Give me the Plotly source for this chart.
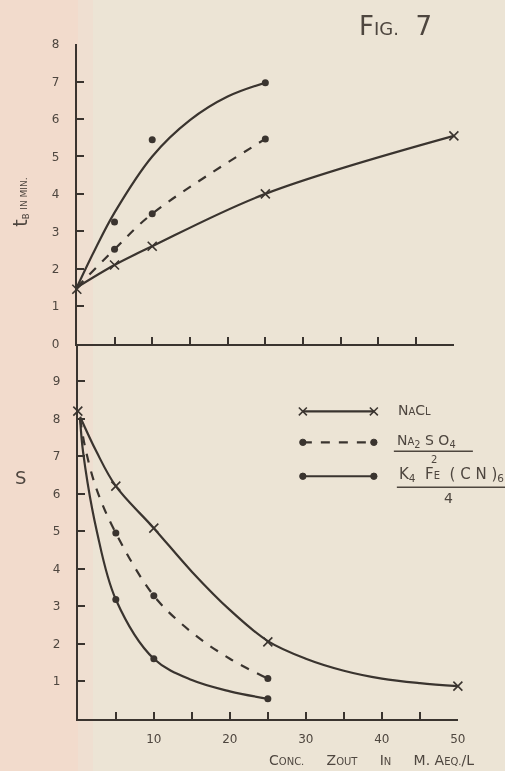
import plotly.graph_objects as go

# ---------------- data ----------------
# upper panel: t_B in min vs concentration (measured points)
tb_nacl_x = [0, 5, 10, 25, 50]
tb_nacl_y = [1.45, 2.1, 2.6, 4.0, 5.55]
tb_na2so4_x = [5, 10, 25]
tb_na2so4_y = [2.52, 3.47, 5.47]
tb_k4_x = [5, 10, 25]
tb_k4_y = [3.25, 5.45, 6.97]

# hand-drawn curves of the upper panel
tb_nacl_curve_x = [0, 5, 10, 25, 50]
tb_nacl_curve_y = [1.5, 2.1, 2.6, 4.0, 5.55]
tb_na2so4_curve_x = [0, 5, 10, 25]
tb_na2so4_curve_y = [1.5, 2.52, 3.47, 5.47]
tb_k4_curve_x = [0, 2.5, 5, 10, 15, 20, 25]
tb_k4_curve_y = [1.5, 2.55, 3.5, 5.0, 5.97, 6.6, 6.97]

# lower panel: S vs concentration (measured points)
s_nacl_x = [0, 5, 10, 25, 50]
s_nacl_y = [8.2, 6.2, 5.08, 2.05, 0.87]
s_na2so4_x = [5, 10, 25]
s_na2so4_y = [4.95, 3.28, 1.07]
s_k4_x = [5, 10, 25]
s_k4_y = [3.18, 1.6, 0.53]

# hand-drawn curves of the lower panel
s_nacl_curve_x = [0.3, 2.5, 5, 10, 15, 20, 25, 30, 35, 40, 45, 50]
s_nacl_curve_y = [8.05, 7.1, 6.2, 5.08, 3.92, 2.9, 2.07, 1.6, 1.28, 1.07, 0.95, 0.87]
s_na2so4_curve_x = [0.3, 1, 2.5, 5, 10, 15, 20, 25]
s_na2so4_curve_y = [8.0, 7.2, 6.1, 4.95, 3.28, 2.3, 1.6, 1.07]
s_k4_curve_x = [0.3, 0.7, 2.5, 5, 10, 15, 20, 25]
s_k4_curve_y = [8.0, 7.1, 5.0, 3.18, 1.6, 1.03, 0.73, 0.53]

x_ticks = [5, 10, 15, 20, 25, 30, 35, 40, 45, 50]
x_ticktext = ["", "10", "", "20", "", "30", "", "40", "", "50"]
tb_ticks = [0, 1, 2, 3, 4, 5, 6, 7, 8]
s_ticks = [1, 2, 3, 4, 5, 6, 7, 8, 9]

# ---------------- style ----------------
W, H = 505, 771
BG = "rgb(236,228,213)"
PINK = "rgb(242,219,204)"
PINK2 = "rgb(239,223,209)"
INK = "rgb(58,52,47)"
TXT = "rgb(78,70,63)"
FONT = "DejaVu Sans"

# the page photo is slightly rescaled / shifted; positions below are target pixels
SX, OX, SY, OY = 0.984, -0.8, 0.984, 5.7
def px(x):
    return ((x - OX) / SX) / W
def py(y):
    return 1 - ((y - OY) / SY) / H

fig = go.Figure()

def curve(x, y, dash, xa, ya, smooth=1.0):
    fig.add_trace(go.Scatter(x=x, y=y, mode="lines", xaxis=xa, yaxis=ya, cliponaxis=False,
                             line=dict(color=INK, width=2.2, dash=dash, shape="spline", smoothing=smooth),
                             showlegend=False, hoverinfo="skip"))

def marks(x, y, sym, xa, ya):
    if sym == "x":
        m = dict(symbol="x-thin", size=9, line=dict(color=INK, width=1.6), color=INK)
    else:
        m = dict(symbol="circle", size=7, color=INK)
    fig.add_trace(go.Scatter(x=x, y=y, mode="markers", xaxis=xa, yaxis=ya, marker=m, cliponaxis=False,
                             showlegend=False, hoverinfo="skip"))

# upper panel
curve(tb_nacl_curve_x, tb_nacl_curve_y, "solid", "x", "y")
marks(tb_nacl_x, tb_nacl_y, "x", "x", "y")
curve(tb_na2so4_curve_x, tb_na2so4_curve_y, "dash", "x", "y")
marks(tb_na2so4_x, tb_na2so4_y, "o", "x", "y")
curve(tb_k4_curve_x, tb_k4_curve_y, "solid", "x", "y")
marks(tb_k4_x, tb_k4_y, "o", "x", "y")

# lower panel
curve(s_nacl_curve_x, s_nacl_curve_y, "solid", "x2", "y2")
marks(s_nacl_x, s_nacl_y, "x", "x2", "y2")
curve(s_na2so4_curve_x, s_na2so4_curve_y, "dash", "x2", "y2")
marks(s_na2so4_x, s_na2so4_y, "o", "x2", "y2")
curve(s_k4_curve_x, s_k4_curve_y, "solid", "x2", "y2")
marks(s_k4_x, s_k4_y, "o", "x2", "y2")

axis_common = dict(showgrid=False, zeroline=False, showline=True, linecolor=INK, linewidth=2,
                   ticks="inside", ticklen=7, tickwidth=1.8, tickcolor=INK,
                   tickfont=dict(family=FONT, size=12, color=TXT))

fig.update_layout(
    width=W, height=H,
    margin=dict(l=0, r=0, t=0, b=0, pad=0),
    paper_bgcolor="rgba(0,0,0,0)", plot_bgcolor="rgba(0,0,0,0)",
    showlegend=False,
    xaxis=dict(axis_common, domain=[px(76), px(453)], range=[0, 50], anchor="y",
               tickvals=x_ticks, showticklabels=False),
    yaxis=dict(axis_common, domain=[py(343), py(43)], range=[0, 8], anchor="x",
               tickvals=tb_ticks, ticktext=[str(v) for v in tb_ticks], ticklabelstandoff=13),
    xaxis2=dict(axis_common, domain=[px(77), px(457)], range=[0, 50], anchor="y2",
                tickvals=x_ticks, ticktext=x_ticktext, ticklabelstandoff=8),
    yaxis2=dict(axis_common, domain=[py(719), py(343)], range=[0, 10], anchor="x2",
                tickvals=s_ticks, ticktext=[str(v) for v in s_ticks], ticklabelstandoff=13),
)

shapes = []
# hand-drawn legend
lx0, lx1 = 302, 373
rows = [(411, "x", "solid"), (442, "o", "dash"), (476, "o", "solid")]
for yy, sym, dash in rows:
    shapes.append(dict(type="line", xref="paper", yref="paper", x0=px(lx0), x1=px(lx1),
                       y0=py(yy), y1=py(yy), line=dict(color=INK, width=2.2, dash=dash)))
    for xx in (lx0, lx1):
        if sym == "x":
            d = 4
            shapes.append(dict(type="line", xref="paper", yref="paper", x0=px(xx - d), x1=px(xx + d),
                               y0=py(yy - d), y1=py(yy + d), line=dict(color=INK, width=1.5)))
            shapes.append(dict(type="line", xref="paper", yref="paper", x0=px(xx - d), x1=px(xx + d),
                               y0=py(yy + d), y1=py(yy - d), line=dict(color=INK, width=1.5)))
        else:
            r = 3.2
            shapes.append(dict(type="circle", xref="paper", yref="paper", x0=px(xx - r), x1=px(xx + r),
                               y0=py(yy + r), y1=py(yy - r), fillcolor=INK, line=dict(color=INK, width=1)))
# fraction bars of the legend labels
for (xa, xb, yy) in [(393, 472, 451), (396, 510, 487)]:
    shapes.append(dict(type="line", xref="paper", yref="paper", x0=px(xa), x1=px(xb),
                       y0=py(yy), y1=py(yy), line=dict(color=TXT, width=1.4)))
fig.update_layout(shapes=shapes)

sm = "font-size:10px"
ann = []
ann.append(dict(text=f"N<span style='{sm}'>A</span>C<span style='{sm}'>L</span>",
                x=px(395), y=py(410), xanchor="left", yanchor="middle"))
ann.append(dict(text=f"N<span style='{sm}'>A</span><sub>2</sub> S O<sub>4</sub>",
                x=px(394), y=py(441), xanchor="left", yanchor="middle"))
ann.append(dict(text="<span style='font-size:10px'>2</span>", x=px(433), y=py(459),
                xanchor="center", yanchor="middle"))
ann.append(dict(text=f"K<sub>4</sub>&nbsp; F<span style='{sm}'>E</span>&nbsp; ( C N )<sub>6</sub>",
                x=px(396), y=py(474), xanchor="left", yanchor="middle", font_size=15))
ann.append(dict(text="4", x=px(448), y=py(498), xanchor="center", yanchor="middle"))
# axis titles
ann.append(dict(text=f"<span style='font-size:19px'>t</span><sub>B</sub> <span style='font-size:9px'>IN MIN.</span>",
                x=px(20), y=py(201), textangle=-90, xanchor="center", yanchor="middle", font_size=12))
ann.append(dict(text="<span style='font-size:18px'>S</span>", x=px(20), y=py(477),
                xanchor="center", yanchor="middle"))
ann.append(dict(text=f"C<span style='{sm}'>ONC.</span>&nbsp;&nbsp;&nbsp;&nbsp; Z<span style='{sm}'>OUT</span>&nbsp;&nbsp;&nbsp;&nbsp; I<span style='{sm}'>N</span>&nbsp;&nbsp;&nbsp;&nbsp; M. A<span style='{sm}'>EQ.</span>/L",
                x=px(371), y=py(760), xanchor="center", yanchor="middle", font_size=14))
ann.append(dict(text="F<span style='font-size:18px'>IG.</span>&nbsp;&nbsp;7", x=px(395), y=py(25),
                xanchor="center", yanchor="middle", font=dict(family=FONT, size=26, color=TXT)))
for a in ann:
    fs = a.pop("font_size", 14)
    a.setdefault("font", dict(family=FONT, size=fs, color=TXT))
    a.update(xref="paper", yref="paper", showarrow=False)
fig.update_layout(annotations=ann)

grad = ("linear-gradient(to right, " + PINK + " 0px, " + PINK + " 78px, " + PINK2 + " 78px, "
        + PINK2 + " 93px, " + BG + " 93px, " + BG + " 100%)")
post = (
    "var g='" + grad + "';"
    "document.documentElement.style.margin='0';document.documentElement.style.overflow='hidden';"
    "document.documentElement.style.background=g;"
    "document.body.style.margin='0';document.body.style.padding='0';document.body.style.overflow='hidden';"
    "document.body.style.background=g;"
    "var d=document.getElementById('{plot_id}');d.style.position='fixed';d.style.left='0px';d.style.top='0px';"
)
fig.write_html("out.html", config={"displayModeBar": False}, post_script=post)
